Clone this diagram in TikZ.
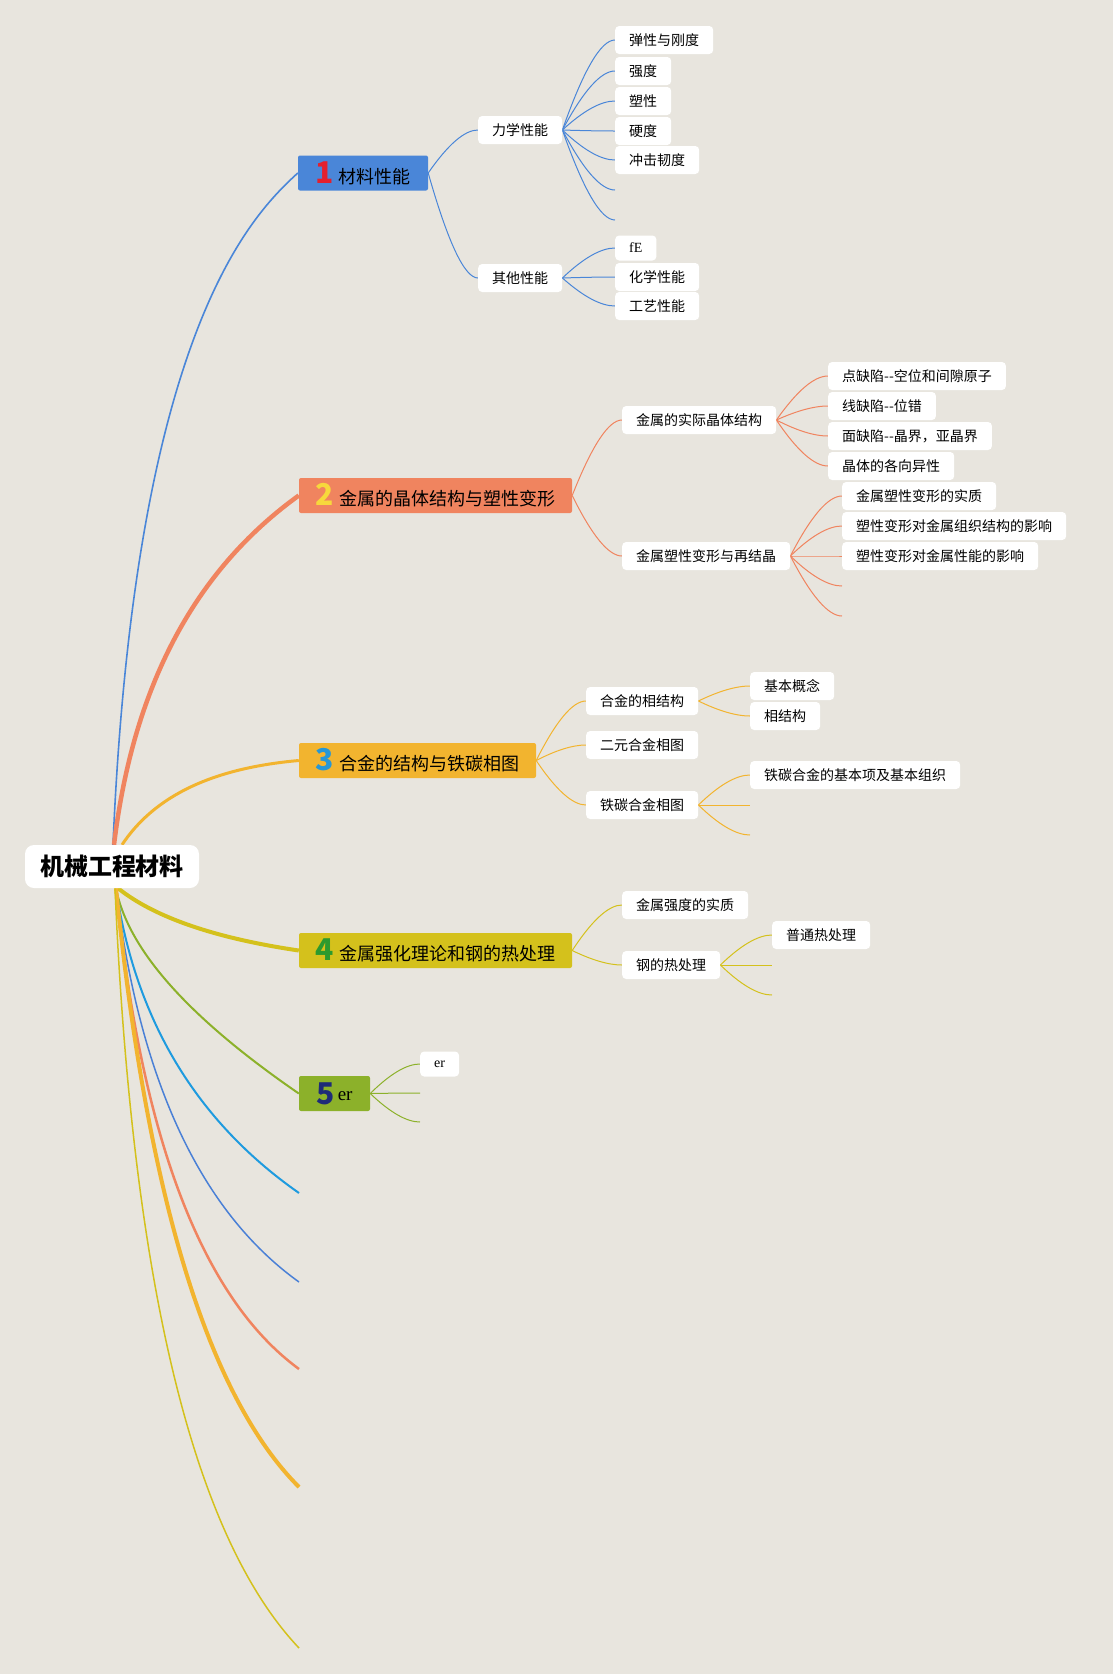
\documentclass[tikz,border=0pt]{standalone}
\usepackage{fontspec}
\setmainfont{Noto Sans CJK SC}
\newfontfamily\serifer{Liberation Serif}
\usetikzlibrary{calc}
\pgfdeclarelayer{bg}
\pgfdeclarelayer{edges}
\pgfsetlayers{bg,edges,main}
\definecolor{bgc}{HTML}{E8E5DE}
\definecolor{c1}{HTML}{4A86D8}
\definecolor{c2}{HTML}{F0845F}
\definecolor{c3}{HTML}{F2B42F}
\definecolor{c4}{HTML}{D4C11C}
\definecolor{c5}{HTML}{8CB12A}
\definecolor{n1}{HTML}{E3202E}
\definecolor{n2}{HTML}{F7D83C}
\definecolor{n3}{HTML}{2697D6}
\definecolor{n4}{HTML}{2C9A2E}
\definecolor{n5}{HTML}{1E2B78}
\definecolor{lb}{HTML}{1E9BDF}
\definecolor{b2}{HTML}{4A80D6}
\newcommand{\nm}[2]{{\fontsize{30}{30}\selectfont\bfseries\color{#1}#2}}
\tikzset{
  rootbox/.style={fill=white, rounded corners=9pt, minimum width=174pt, minimum height=43pt, inner sep=0pt, font=\fontsize{24}{28}\selectfont\bfseries},
  topicbox/.style={rounded corners=2pt, minimum height=35pt, inner sep=0pt, font=\fontsize{18}{22}\selectfont},
  subbox/.style={fill=white, rounded corners=4pt, minimum height=28pt, inner xsep=14pt, inner ysep=0pt, anchor=west, font=\fontsize{14}{16}\selectfont},
  br/.style={to path={let \p1=(\tikztostart), \p2=(\tikztotarget) in
     .. controls ({\x1+0.4*(\x2-\x1)},{\y1+0.667*(\y2-\y1)}) and ({\x2-0.267*(\x2-\x1)},\y2) .. (\tikztotarget)}},
  thin/.style={line width=1pt},
}
\begin{document}
\begin{tikzpicture}[x=1pt,y=-1pt]
\begin{pgfonlayer}{bg}
\fill[bgc] (0,0) rectangle (1113,1674);
\end{pgfonlayer}
\useasboundingbox (0,0) rectangle (1113,1674);

% root
\node[rootbox] (root) at (112,866.5) {机械工程材料};

% topics
\node[topicbox, fill=c1, minimum width=130pt] (t1) at (363,173) {\nm{n1}{1}\hspace{5pt}材料性能};
\node[topicbox, fill=c2, minimum width=273pt] (t2) at (435.5,495.5) {\nm{n2}{2}\hspace{5pt}金属的晶体结构与塑性变形};
\node[topicbox, fill=c3, minimum width=237pt] (t3) at (417.5,760.5) {\nm{n3}{3}\hspace{5pt}合金的结构与铁碳相图};
\node[topicbox, fill=c4, minimum width=273pt] (t4) at (435.5,950.5) {\nm{n4}{4}\hspace{5pt}金属强化理论和钢的热处理};
\node[topicbox, fill=c5, minimum width=71pt] (t5) at (334.5,1093.5) {\nm{n5}{5}\hspace{3pt}\raisebox{4pt}{\fontsize{19}{22}\selectfont\serifer er}};

% free ends of the unlabeled main branches
\coordinate (f1) at (299,1193);
\coordinate (f2) at (299,1282);
\coordinate (f3) at (299,1369);
\coordinate (f4) at (299,1487);
\coordinate (f5) at (299,1648);

% topic 1
\node[subbox] (a1) at (478,130) {力学性能};
\node[subbox] (a2) at (478,278) {其他性能};
\node[subbox] (a11) at (615,40) {弹性与刚度};
\node[subbox] (a12) at (615,71) {强度};
\node[subbox] (a13) at (615,101) {塑性};
\node[subbox] (a14) at (615,131) {硬度};
\node[subbox] (a15) at (615,160) {冲击韧度};
\coordinate (a16) at (615,190);
\coordinate (a17) at (615,220);
\node[subbox, minimum height=25pt] (a21) at (615,248) {\serifer fE};
\node[subbox] (a22) at (615,277) {化学性能};
\node[subbox] (a23) at (615,306) {工艺性能};

% topic 2
\node[subbox] (b1) at (622,420) {金属的实际晶体结构};
\node[subbox] (b2) at (622,556) {金属塑性变形与再结晶};
\node[subbox] (b11) at (828,376) {点缺陷-{}-空位和间隙原子};
\node[subbox] (b12) at (828,406) {线缺陷-{}-位错};
\node[subbox] (b13) at (828,436) {面缺陷-{}-晶界，亚晶界};
\node[subbox] (b14) at (828,466) {晶体的各向异性};
\node[subbox] (b21) at (842,496) {金属塑性变形的实质};
\node[subbox] (b22) at (842,526) {塑性变形对金属组织结构的影响};
\node[subbox] (b23) at (842,556) {塑性变形对金属性能的影响};
\coordinate (b24) at (842,586);
\coordinate (b25) at (842,616);

% topic 3
\node[subbox] (c1n) at (586,701) {合金的相结构};
\node[subbox] (c2n) at (586,745) {二元合金相图};
\node[subbox] (c3n) at (586,805) {铁碳合金相图};
\node[subbox] (c11) at (750,686) {基本概念};
\node[subbox] (c12) at (750,716) {相结构};
\node[subbox] (c31) at (750,775) {铁碳合金的基本项及基本组织};
\coordinate (c32) at (750,805);
\coordinate (c33) at (750,835);

% topic 4
\node[subbox] (d1) at (622,905) {金属强度的实质};
\node[subbox] (d2) at (622,965) {钢的热处理};
\node[subbox] (d21) at (772,935) {普通热处理};
\coordinate (d22) at (772,965);
\coordinate (d23) at (772,995);

% topic 5
\node[subbox, minimum height=25pt] (e1) at (420,1064) {\serifer er};
\coordinate (e2) at (420,1093);
\coordinate (e3) at (420,1122);

\begin{pgfonlayer}{edges}
% main branches
\draw[c1, line width=1.6pt] ([xshift=1pt]root.north) .. controls (135,330) and (252,215) .. (t1.west);
\draw[c2, line width=4.5pt] ([xshift=2pt]root.north) .. controls (133,687) and (194,571) .. (t2.west);
\draw[c3, line width=3pt] ([xshift=10pt]root.north) .. controls (155,795) and (214,768) .. (t3.west);
\draw[c4, line width=4pt] ([xshift=6pt]root.south) .. controls (154,917) and (214,938) .. (t4.west);
\draw[c5, line width=2pt] ([xshift=4pt]root.south) .. controls (128,950) and (189,1018) .. (t5.west);
\draw[lb, line width=2pt] ([xshift=4pt]root.south) .. controls (135,1019) and (196,1121) .. (f1);
\draw[b2, line width=1.5pt] ([xshift=4pt]root.south) .. controls (139,1079) and (200,1211) .. (f2);
\draw[c2, line width=2.5pt] ([xshift=4pt]root.south) .. controls (141,1138) and (202,1298) .. (f3);
\draw[c3, line width=4pt] ([xshift=4pt]root.south) .. controls (147,1196) and (208,1396) .. (f4);
\draw[c4, line width=1.5pt] ([xshift=3pt]root.south) .. controls (132,1283) and (193,1536) .. (f5);

% topic 1 sub-branches
\foreach \k in {a1,a2} \draw[c1, thin] (t1.east) to[br] (\k.west);
\foreach \k in {a11,a12,a13,a14,a15} \draw[c1, thin] (a1.east) to[br] (\k.west);
\foreach \k in {a16,a17} \draw[c1, thin] (a1.east) to[br] (\k);
\foreach \k in {a21,a22,a23} \draw[c1, thin] (a2.east) to[br] (\k.west);

% topic 2
\foreach \k in {b1,b2} \draw[c2, thin] (t2.east) to[br] (\k.west);
\foreach \k in {b11,b12,b13,b14} \draw[c2, thin] (b1.east) to[br] (\k.west);
\foreach \k in {b21,b22,b23} \draw[c2, thin] (b2.east) to[br] (\k.west);
\foreach \k in {b24,b25} \draw[c2, thin] (b2.east) to[br] (\k);

% topic 3
\foreach \k in {c1n,c2n,c3n} \draw[c3, thin] (t3.east) to[br] (\k.west);
\foreach \k in {c11,c12} \draw[c3, thin] (c1n.east) to[br] (\k.west);
\draw[c3, thin] (c3n.east) to[br] (c31.west);
\foreach \k in {c32,c33} \draw[c3, thin] (c3n.east) to[br] (\k);

% topic 4
\foreach \k in {d1,d2} \draw[c4, thin] (t4.east) to[br] (\k.west);
\draw[c4, thin] (d2.east) to[br] (d21.west);
\foreach \k in {d22,d23} \draw[c4, thin] (d2.east) to[br] (\k);

% topic 5
\draw[c5, thin] (t5.east) to[br] (e1.west);
\foreach \k in {e2,e3} \draw[c5, thin] (t5.east) to[br] (\k);
\end{pgfonlayer}
\end{tikzpicture}
\end{document}
